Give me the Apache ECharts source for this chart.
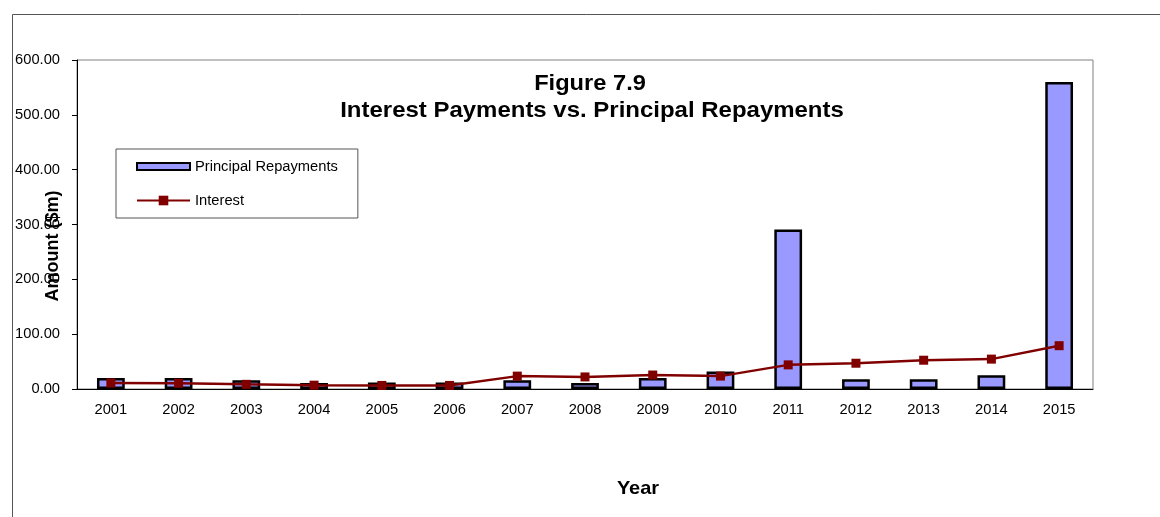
<!DOCTYPE html>
<html>
<head>
<meta charset="utf-8">
<title>Interest Payments vs. Principal Repayments</title>
<script src="https://cdn.jsdelivr.net/npm/echarts@6/dist/echarts.min.js"></script>
<style>
  html, body { margin: 0; padding: 0; background: #fff; }
  #chart { width: 1160px; height: 517px; }
</style>
</head>
<body>
<div id="chart"></div>
<script>
// Years on the category axis
const years = ['2001', '2002', '2003', '2004', '2005', '2006', '2007', '2008',
               '2009', '2010', '2011', '2012', '2013', '2014', '2015'];
// Principal repayments, $m
const principal = [20, 20, 16, 11, 12, 12, 16, 11, 20, 32, 291, 18, 18, 25, 560];
// Interest payments, $m
const interest = [11, 10.5, 8.5, 7, 6.5, 6.5, 23.5, 22, 25.5, 23.5, 44, 47, 52.5, 54.5, 79];
// Value axis range and step
const yMin = 0, yMax = 600, yStep = 100;

const FONT = '"Liberation Sans", Arial, sans-serif';

const chart = echarts.init(document.getElementById('chart'), null, { renderer: 'canvas' });

chart.setOption({
  backgroundColor: '#fff',
  animation: false,
  grid: {
    left: 77, right: 67, top: 60, bottom: 128,
    show: true, borderColor: '#808080', borderWidth: 1, backgroundColor: 'transparent'
  },
  legend: {
    orient: 'vertical',
    left: 116, top: 149,
    padding: [10, 20, 10, 20],
    itemGap: 19,
    itemWidth: 53, itemHeight: 12,
    borderColor: '#555', borderWidth: 1,
    backgroundColor: '#fff',
    textStyle: { fontFamily: FONT, fontSize: 14.7, color: '#000' },
    data: [
      // flat bar swatch kept at its own aspect inside the taller legend row
      { name: 'Principal Repayments', icon: 'path://M0,0H53V7H0Z' },
      { name: 'Interest' }
    ]
  },
  xAxis: {
    type: 'category',
    data: years,
    boundaryGap: true,
    axisLine: { lineStyle: { color: '#000', width: 1 } },
    axisTick: { length: 5, lineStyle: { color: '#000' } },
    axisLabel: { fontFamily: FONT, fontSize: 14.7, color: '#000', margin: 13 }
  },
  yAxis: {
    type: 'value',
    min: yMin, max: yMax, interval: yStep,
    axisLine: { show: true, lineStyle: { color: '#000', width: 1 } },
    axisTick: { show: true, length: 5, lineStyle: { color: '#000' } },
    splitLine: { show: false },
    axisLabel: {
      fontFamily: FONT, fontSize: 14.7, color: '#000', margin: 17,
      formatter: v => v.toFixed(2)
    }
  },
  graphic: [
    // outer chart frame
    { type: 'rect', left: 10, top: 12, silent: true,
      shape: { width: 1200, height: 600 },
      style: { fill: 'none', stroke: '#555', lineWidth: 1 } },
    // two-line heading
    { type: 'text', x: 590, y: 84, scaleX: 1.1, silent: true,
      style: { text: 'Figure 7.9', font: 'bold 21.5px ' + FONT, fill: '#000',
               textAlign: 'center', textVerticalAlign: 'middle' } },
    { type: 'text', x: 592, y: 111, scaleX: 1.115, silent: true,
      style: { text: 'Interest Payments vs. Principal Repayments', font: 'bold 21.5px ' + FONT,
               fill: '#000', textAlign: 'center', textVerticalAlign: 'middle' } },
    { type: 'text', x: 638, y: 489, scaleX: 1.08, silent: true,
      style: { text: 'Year', font: 'bold 18.5px ' + FONT, fill: '#000',
               textAlign: 'center', textVerticalAlign: 'middle' } },
    { type: 'text', x: 53, y: 246, rotation: Math.PI / 2, silent: true,
      style: { text: 'Amount ($m)', font: 'bold 18px ' + FONT, fill: '#000',
               textAlign: 'center', textVerticalAlign: 'middle' } }
  ],
  series: [
    {
      name: 'Principal Repayments',
      type: 'bar',
      data: principal,
      barWidth: '41%',
      itemStyle: { color: '#9999FF', borderColor: '#000', borderWidth: 2.5 }
    },
    {
      name: 'Interest',
      type: 'line',
      data: interest,
      symbol: 'rect',
      symbolSize: 9,
      lineStyle: { color: '#800000', width: 2.5 },
      itemStyle: { color: '#800000' },
      z: 5
    }
  ]
});
</script>
</body>
</html>
